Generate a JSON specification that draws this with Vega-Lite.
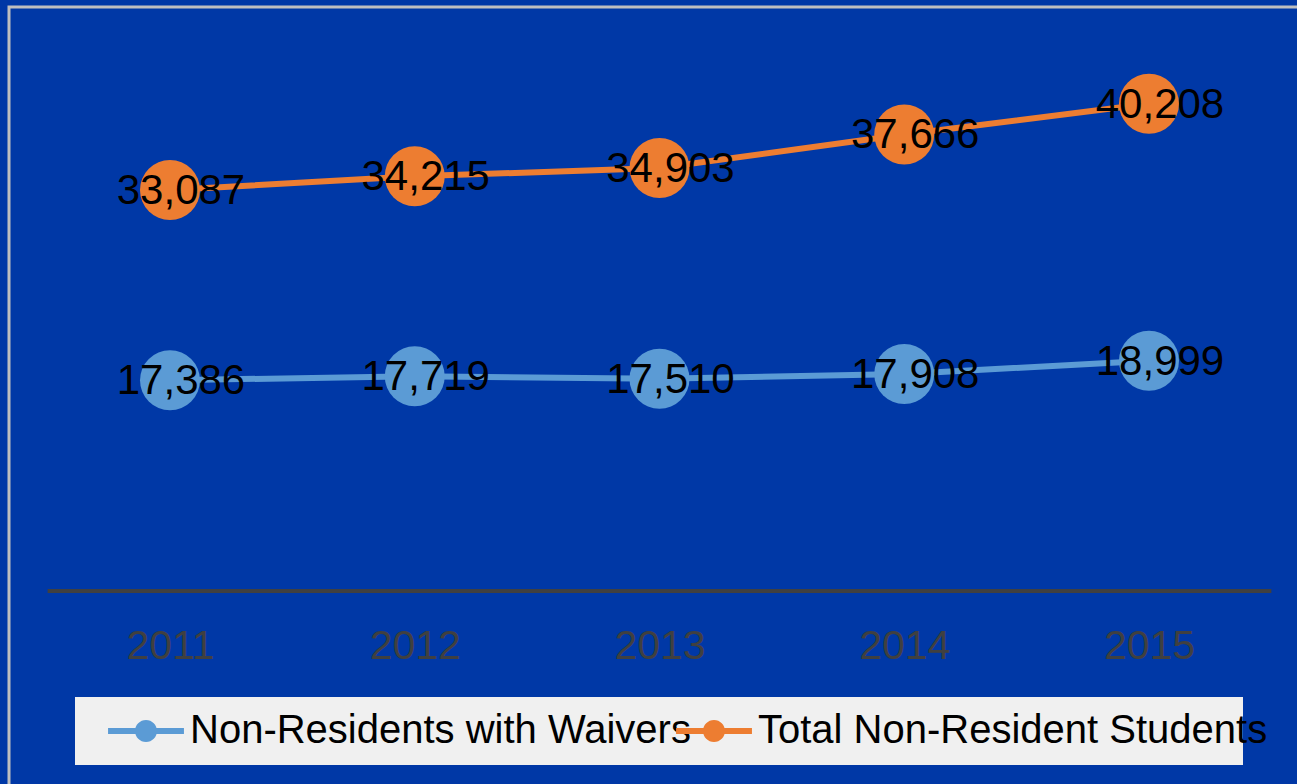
{
  "$schema": "https://vega.github.io/schema/vega-lite/v6.json",
  "autosize": {"type": "none"},
  "padding": {"left": 9, "top": 7, "right": 0, "bottom": 0},
  "width": 1291,
  "height": 780,
  "background": "#0038A6",
  "config": {
    "font": "Liberation Sans",
    "view": {"stroke": "#BFBFBF", "strokeWidth": 3},
    "legend": {
      "orient": "none",
      "direction": "horizontal",
      "title": null,
      "padding": 14,
      "symbolType": "M-3.45,-0.27L3.45,-0.27L3.45,0.27L-3.45,0.27Z M-1,0A1,1 0 1,1 1,0A1,1 0 1,1 -1,0Z",
      "symbolSize": 484,
      "symbolStrokeWidth": 0,
      "symbolOpacity": 1,
      "symbolOffset": 37,
      "labelFontSize": 40,
      "labelColor": "black",
      "labelOffset": 24,
      "labelLimit": 0
    }
  },
  "data": {
    "values": [
      {"year": 2011, "series": "Non-Residents with Waivers", "value": 17386},
      {"year": 2012, "series": "Non-Residents with Waivers", "value": 17719},
      {"year": 2013, "series": "Non-Residents with Waivers", "value": 17510},
      {"year": 2014, "series": "Non-Residents with Waivers", "value": 17908},
      {"year": 2015, "series": "Non-Residents with Waivers", "value": 18999},
      {"year": 2011, "series": "Total Non-Resident Students", "value": 33087},
      {"year": 2012, "series": "Total Non-Resident Students", "value": 34215},
      {"year": 2013, "series": "Total Non-Resident Students", "value": 34903},
      {"year": 2014, "series": "Total Non-Resident Students", "value": 37666},
      {"year": 2015, "series": "Total Non-Resident Students", "value": 40208}
    ]
  },
  "encoding": {
    "x": {
      "field": "year",
      "type": "quantitative",
      "scale": {"domain": [2010.3422, 2015.617], "nice": false, "zero": false},
      "axis": {
        "values": [2011, 2012, 2013, 2014, 2015],
        "format": "d",
        "title": null,
        "domain": false,
        "ticks": false,
        "tickSize": 0,
        "grid": false,
        "labelFontSize": 41,
        "labelColor": "#404040",
        "labelFlush": false,
        "labelOverlap": false,
        "labelBaseline": "middle",
        "labelPadding": 54,
        "offset": -195
      }
    },
    "y": {
      "field": "value",
      "type": "quantitative",
      "scale": {"domain": [-16172, 48185], "nice": false, "zero": false},
      "axis": null
    }
  },
  "layer": [
    {
      "data": {"values": [{"lineStart": 2010.5, "lineEnd": 2015.5, "base": 0}]},
      "mark": {"type": "rule", "color": "#404040", "strokeWidth": 4},
      "encoding": {
        "x": {"field": "lineStart", "type": "quantitative"},
        "x2": {"field": "lineEnd"},
        "y": {"field": "base", "type": "quantitative"}
      }
    },
    {
      "mark": {"type": "line", "strokeWidth": 6},
      "encoding": {
        "color": {
          "field": "series",
          "type": "nominal",
          "scale": {
            "domain": ["Non-Residents with Waivers", "Total Non-Resident Students"],
            "range": ["#5B9BD5", "#ED7D31"]
          },
          "legend": {
            "legendX": 66,
            "legendY": 690,
            "fillColor": "#F0F0F0",
            "encode": {
              "symbols": {"update": {
                "fill": {"scale": "color", "field": "value"},
                "opacity": {"signal": "datum.value === 'Total Non-Resident Students' ? 0 : 1"}
              }},
              "labels": {"update": {
                "opacity": {"signal": "datum.value === 'Total Non-Resident Students' ? 0 : 1"},
                "fontSize": {"signal": "datum.value === 'Total Non-Resident Students' ? 33.5 : 40"}
              }}
            }
          }
        }
      }
    },
    {
      "mark": {"type": "point", "filled": true, "size": 3600, "opacity": 1},
      "encoding": {
        "color": {
          "field": "series",
          "type": "nominal",
          "scale": {
            "domain": ["Non-Residents with Waivers", "Total Non-Resident Students"],
            "range": ["#5B9BD5", "#ED7D31"]
          },
          "legend": {
            "legendX": 634,
            "legendY": 690,
            "values": ["Total Non-Resident Students"],
            "encode": {
              "symbols": {"update": {
                "fill": {"scale": "color", "field": "value"}
              }}
            }
          }
        }
      }
    },
    {
      "mark": {"type": "text", "fontSize": 42, "dx": 11, "dy": 1, "baseline": "middle", "align": "center", "color": "black"},
      "encoding": {
        "text": {"field": "value", "type": "quantitative", "format": ","}
      }
    }
  ],
  "resolve": {"legend": {"color": "independent"}}
}
